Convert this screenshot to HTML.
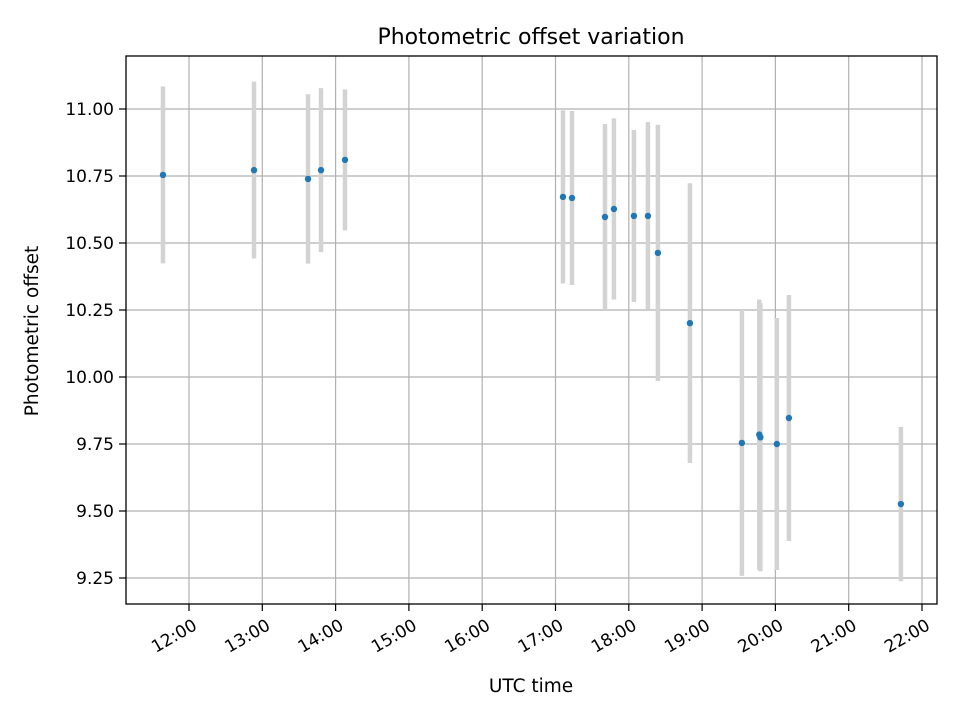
<!DOCTYPE html>
<html><head><meta charset="utf-8"><style>
body{margin:0;background:#fff;}
svg text{font-family:"DejaVu Sans","Liberation Sans",sans-serif;fill:#000;}
</style></head><body>
<svg id="chart" width="960" height="720" xmlns="http://www.w3.org/2000/svg">
<rect width="960" height="720" fill="#fff"/>
<g id="grid"></g><g id="bars"></g><g id="pts"></g><g id="axes"></g>
<text x="531" y="44" style="font-size:22px" text-anchor="middle">Photometric offset variation</text>
<text x="531" y="692" style="font-size:18.5px" text-anchor="middle">UTC time</text>
<text transform="translate(38,331) rotate(-90)" style="font-size:18.5px" text-anchor="middle">Photometric offset</text>
</svg>
<script>
const times=[11.645,12.887,13.624,13.801,14.128,17.102,17.225,17.675,17.797,18.070,18.261,18.397,18.834,19.543,19.780,19.795,20.020,20.184,21.712];
const values=[10.754,10.772,10.739,10.772,10.810,10.672,10.668,10.597,10.627,10.601,10.601,10.463,10.201,9.754,9.785,9.775,9.750,9.847,9.526];
const errors=[0.330,0.330,0.316,0.306,0.263,0.323,0.325,0.347,0.338,0.321,0.350,0.478,0.522,0.496,0.504,0.500,0.470,0.459,0.288];
const xTicks=[12,13,14,15,16,17,18,19,20,21,22];
const xTickLabels=["12:00","13:00","14:00","15:00","16:00","17:00","18:00","19:00","20:00","21:00","22:00"];
const yTicks=[9.25,9.5,9.75,10,10.25,10.5,10.75,11];
const yTickLabels=["9.25","9.50","9.75","10.00","10.25","10.50","10.75","11.00"];
const L=126,R=937,T=56,B=604;
const X=h=>189+(h-12)*73.3;
const Y=v=>109+(11-v)*268;
const NS="http://www.w3.org/2000/svg";
function mk(tag,attrs,parent){const e=document.createElementNS(NS,tag);for(const k in attrs)e.setAttribute(k,attrs[k]);document.getElementById(parent).appendChild(e);return e;}
xTicks.forEach((t,i)=>{const x=X(t);
 const g=mk('line',{x1:x,x2:x,y1:T,y2:B,stroke:'#b0b0b0','stroke-width':1.2},'grid');
 
 
 const tk=mk('line',{x1:x,x2:x,y1:B,y2:B+7,stroke:'#000','stroke-width':1.2},'axes');
 
 
 const tx=mk('text',{transform:`translate(${x+3},${B+14}) rotate(-30)`,style:'font-size:17px','text-anchor':'end',dy:'0.72em'},'axes');
 tx.textContent=xTickLabels[i];
 
 
});
yTicks.forEach((t,i)=>{const y=Y(t);
 const g=mk('line',{x1:L,x2:R,y1:y,y2:y,stroke:'#b0b0b0','stroke-width':1.2},'grid');
 
 
 const tk=mk('line',{x1:L-7,x2:L,y1:y,y2:y,stroke:'#000','stroke-width':1.2},'axes');
 
 
 const tx=mk('text',{x:L-12,y:y+6,style:'font-size:17px','text-anchor':'end'},'axes');
 tx.textContent=yTickLabels[i];
 
 
});
times.forEach((t,i)=>{const x=X(t);
 const b=mk('line',{x1:x,x2:x,y1:Y(values[i]+errors[i]),y2:Y(values[i]-errors[i]),stroke:'#d3d3d3','stroke-width':4.5},'bars');
 
 
 const c=mk('circle',{cx:x,cy:Y(values[i]),r:3.2,fill:'#1f77b4'},'pts');
 
 
});
const fr=mk('rect',{x:L,y:T,width:R-L,height:B-T,fill:'none',stroke:'#000','stroke-width':1.3},'axes');


</script>
</body></html>
